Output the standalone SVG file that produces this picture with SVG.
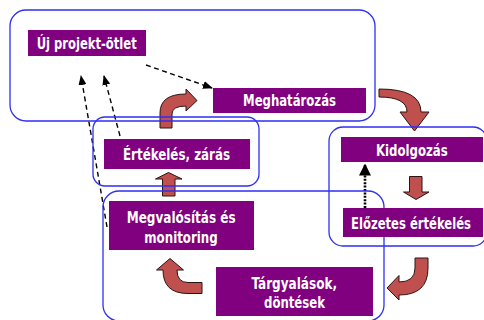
<svg xmlns="http://www.w3.org/2000/svg" width="484" height="320" viewBox="0 0 484 320">
  <style>
    .frame { fill: none; stroke: #2E2EF5; stroke-width: 1.3; }
    .node { fill: #800080; }
    .lbl { fill: #FFFFFF; font-family: "Liberation Sans Narrow", "DejaVu Sans Condensed", "Liberation Sans", sans-serif; font-weight: bold; font-size: 16px; text-anchor: middle; }
    .block { fill: #C0504D; stroke: #2A1414; stroke-width: 1; stroke-linejoin: miter; }
    .dash { fill: none; stroke: #000000; stroke-width: 1.4; stroke-dasharray: 5 3.5; }
    .dot { fill: none; stroke: #000000; stroke-width: 2.6; stroke-dasharray: 2 1.4; }
  </style>
  <defs>
    <marker id="head" markerUnits="userSpaceOnUse" markerWidth="10" markerHeight="8" refX="9" refY="4" orient="auto" viewBox="0 0 10 8">
      <path d="M0,0 L10,4 L0,8 Z" fill="#000000"/>
    </marker>
    <marker id="headBig" markerUnits="userSpaceOnUse" markerWidth="12" markerHeight="12" refX="11" refY="6" orient="auto" viewBox="0 0 12 12">
      <path d="M0,0 L12,6 L0,12 Z" fill="#000000"/>
    </marker>
  </defs>

  <g id="connectors">
    <path class="block" d="M160,128 L160,113 Q160,94 186,94 L186,89 L197,100.5 L186,111 L186,106 Q172,106 172,114 L172,128 Z"/>
    <path class="block" d="M379,89 Q421,89 421,112 L429,112 L414.5,131 L400,112 L407,112 Q407,97 379,97 Z"/>
    <path class="block" d="M409.5,176.5 L422,176.5 L422,192 L429,192 L416,199.5 L403.5,192 L409.5,192 Z"/>
    <path class="block" d="M415,258 L428,258 L428,268 Q428,295 399,295 L399,300 L387,288 L399,275.5 L399,282 Q415,282 415,268 Z"/>
    <path class="block" d="M162.5,196 L175,196 L175,179 L182,179 L168.5,172.5 L155.5,179 L162.5,179 Z"/>
    <path class="block" d="M202,282.5 L202,293.5 L188,293.5 Q163,293.5 163,270 L156.5,270 L170,258.5 L183.5,270 L177,270 Q177,282.5 188,282.5 Z"/>
    <line class="dash" x1="146" y1="65" x2="212" y2="88" marker-end="url(#head)"/>
    <line class="dash" x1="107" y1="227" x2="81" y2="76" marker-end="url(#head)"/>
    <line class="dash" x1="120" y1="136" x2="104" y2="76" marker-end="url(#head)"/>
    <line class="dot" x1="365" y1="208" x2="365" y2="164.5" marker-end="url(#headBig)"/>
  </g>

  <g id="frames">
    <rect class="frame" x="10" y="10" width="365" height="111" rx="16" ry="16"/>
    <rect class="frame" x="93" y="117" width="166" height="69" rx="12" ry="12"/>
    <rect class="frame" x="103" y="191" width="281" height="130" rx="16" ry="16"/>
    <rect class="frame" x="329" y="127" width="158" height="119" rx="14" ry="14"/>
  </g>

  <g id="node-uj-projekt-otlet">
    <rect class="node" x="28" y="30" width="118" height="26"/>
    <text class="lbl" x="86.7" y="48.5" textLength="100" lengthAdjust="spacingAndGlyphs">Új projekt-ötlet</text>
  </g>
  <g id="node-meghatarozas">
    <rect class="node" x="213" y="88" width="153" height="25"/>
    <text class="lbl" x="289.5" y="106.3" textLength="93" lengthAdjust="spacingAndGlyphs">Meghatározás</text>
  </g>
  <g id="node-ertekeles-zaras">
    <rect class="node" x="104" y="139" width="146" height="30"/>
    <text class="lbl" x="176.5" y="160.3" textLength="107" lengthAdjust="spacingAndGlyphs">Értékelés, zárás</text>
  </g>
  <g id="node-kidolgozas">
    <rect class="node" x="341" y="137" width="142" height="25"/>
    <text class="lbl" x="411.8" y="156" textLength="71.7" lengthAdjust="spacingAndGlyphs">Kidolgozás</text>
  </g>
  <g id="node-elozetes-ertekeles">
    <rect class="node" x="343" y="208" width="140" height="29"/>
    <text class="lbl" x="411" y="229" textLength="120" lengthAdjust="spacingAndGlyphs">Előzetes értékelés</text>
  </g>
  <g id="node-megvalositas">
    <rect class="node" x="109" y="201" width="145" height="49"/>
    <text class="lbl" x="181.2" y="222.7" textLength="109" lengthAdjust="spacingAndGlyphs">Megvalósítás és</text>
    <text class="lbl" x="181" y="243.3" textLength="73.4" lengthAdjust="spacingAndGlyphs">monitoring</text>
  </g>
  <g id="node-targyalasok">
    <rect class="node" x="216" y="267" width="157" height="49"/>
    <text class="lbl" x="294.3" y="288.8" textLength="85.5" lengthAdjust="spacingAndGlyphs">Tárgyalások,</text>
    <text class="lbl" x="294.5" y="308" textLength="61" lengthAdjust="spacingAndGlyphs">döntések</text>
  </g>
</svg>
